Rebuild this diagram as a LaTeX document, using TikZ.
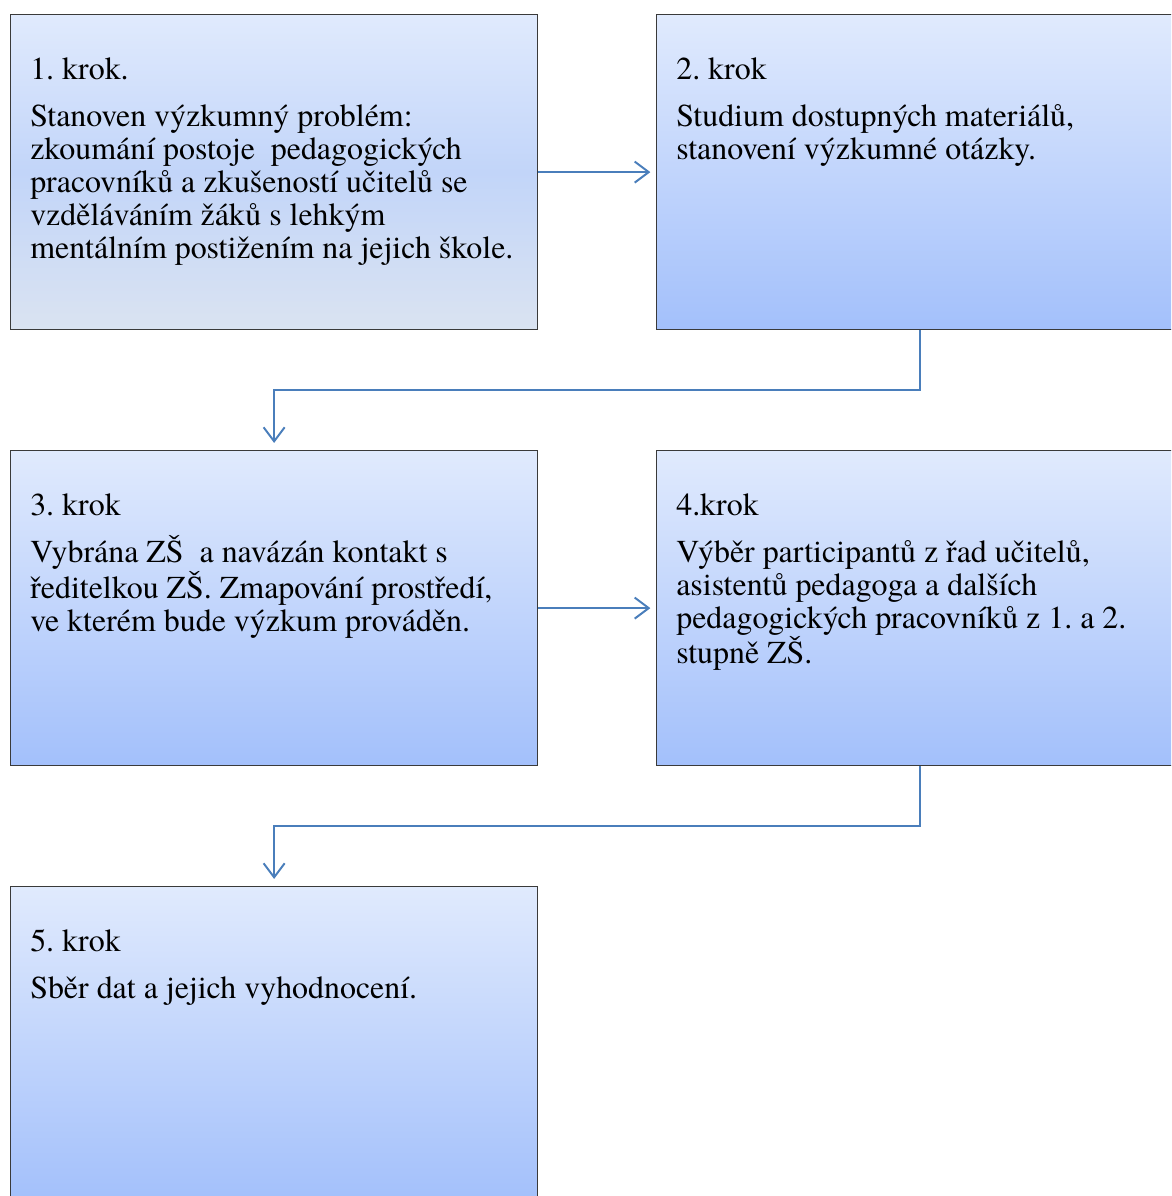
\documentclass[tikz,border=0pt]{standalone}
\usepackage{fontspec}
\newfontfamily\stepfont{texgyretermes-regular.otf}
\frenchspacing
\usetikzlibrary{arrows.meta}
\usetikzlibrary{calc}
\definecolor{boxtop}{HTML}{E0EAFD}
\definecolor{boxbottom}{HTML}{A3C0FB}
\definecolor{boxmid}{HTML}{C2D5F9}
\definecolor{boxgrey}{HTML}{DAE3F1}
\definecolor{boxline}{HTML}{3A3A3A}
\definecolor{linkblue}{HTML}{4A7EBB}
\tikzset{
  stepbox/.style= {draw=boxline, line width=0.8pt, anchor=north west, inner sep=0,
    minimum width=13.175cm, minimum height=7.875cm, top color=boxtop, bottom color=boxbottom},
  firstbox/.style= {top color=boxtop, bottom color=boxgrey, middle color=boxmid},
  steptext/.style= {anchor=north west, align=left, inner sep=0, font=\stepfont\fontsize{22.7}{23.4}\selectfont},
  link/.style= {draw=linkblue, line width=1.4pt, -{Straight Barb[length=10pt, width=15pt]}},
}

\begin{document}
\begin{tikzpicture}[x=0.025cm, y=-0.025cm]
  \useasboundingbox (0,0) rectangle (1171,1196);
  \clip (0,0) rectangle (1171,1196);
  \node [stepbox, firstbox] (k1) at (10,14) {} ;
  \node [stepbox] (k2) at (656,14) {} ;
  \node [stepbox] (k3) at (10,450) {} ;
  \node [stepbox] (k4) at (656,450) {} ;
  \node [stepbox] (k5) at (10,886) {} ;

  \node [steptext] (t1) at ($(k1.north west)+(20,43)$) {1. krok.\\[10.5pt]
    Stanoven výzkumný problém:\\ zkoumání postoje~ pedagogických\\
    pracovníků a zkušeností učitelů se\\ vzděláváním žáků s lehkým\\
    mentálním postižením na jejich škole.} ;
  \node [steptext] (t2) at ($(k2.north west)+(20,43)$) {2. krok\\[10.5pt]
    Studium dostupných materiálů,\\ stanovení výzkumné otázky.} ;
  \node [steptext] (t3) at ($(k3.north west)+(20,43)$) {3. krok\\[10.5pt]
    Vybrána ZŠ~ a navázán kontakt s\\ ředitelkou ZŠ. Zmapování prostředí,\\
    ve kterém bude výzkum prováděn.} ;
  \node [steptext] (t4) at ($(k4.north west)+(20,43)$) {4.krok\\[10.5pt]
    Výběr participantů z řad učitelů,\\ asistentů pedagoga a dalších\\
    pedagogických pracovníků z 1. a 2.\\ stupně ZŠ.} ;
  \node [steptext] (t5) at ($(k5.north west)+(20,43)$) {5. krok\\[10.5pt]
    Sběr dat a jejich vyhodnocení.} ;

  \draw [link, shorten >=4pt] (k1.east) -- (k2.west) ;
  \draw [link, shorten >=4pt] (k3.east) -- (k4.west) ;
  \draw [link, shorten >=5pt] (k2.south) -- ++(0,60) -| (k3.north) ;
  \draw [link, shorten >=5pt] (k4.south) -- ++(0,60) -| (k5.north) ;
\end{tikzpicture}
\end{document}
